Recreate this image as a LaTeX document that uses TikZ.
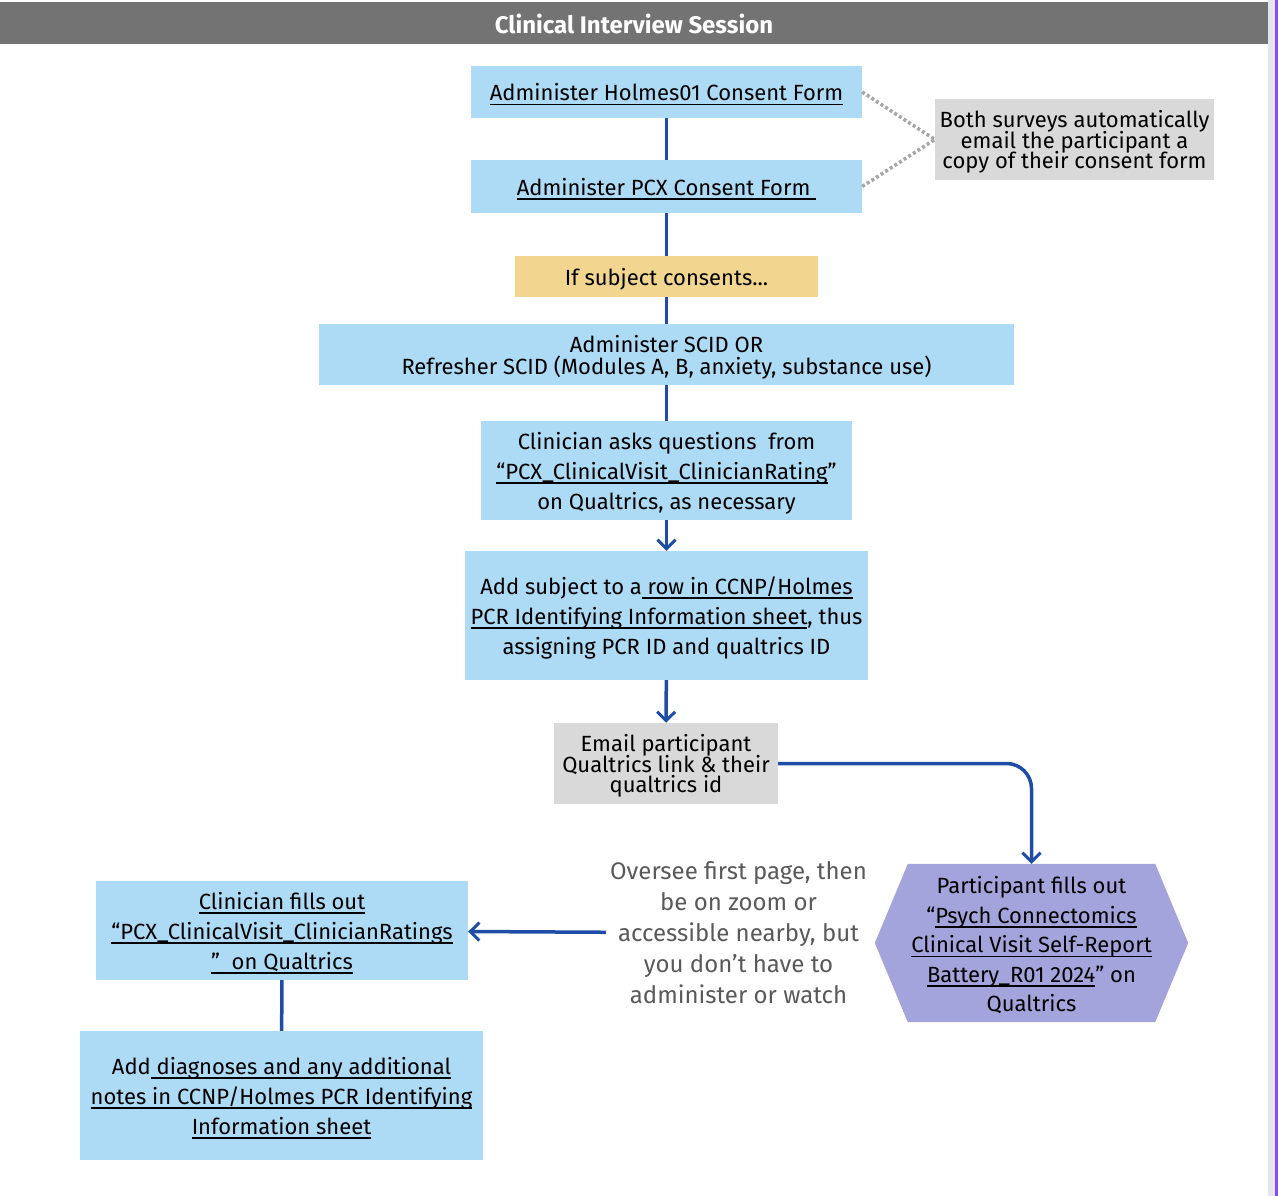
\documentclass[tikz,border=0pt]{standalone}
\usepackage{fontspec}
\setmainfont{Fira Sans}
\usetikzlibrary{arrows.meta,backgrounds}
\definecolor{boxblue}{HTML}{ADDAF5}
\definecolor{boxgrey}{HTML}{D9D9D9}
\definecolor{boxyellow}{HTML}{F2D690}
\definecolor{boxlavender}{HTML}{A4A4DC}
\definecolor{headgrey}{HTML}{737373}
\definecolor{lineblue}{HTML}{1F4CA6}
\definecolor{dotgrey}{HTML}{A6A6A6}
\definecolor{edgegrey}{HTML}{E4E6EC}
\definecolor{edgepurple}{HTML}{8A4BF0}
\definecolor{notegrey}{HTML}{595959}
\newcommand{\uln}[1]{\setbox0\hbox{#1}\rlap{\rule[-4.5pt]{\wd0}{1.6pt}}\box0}
\newcommand{\topline}{\rule{0pt}{22pt}}
\begin{document}
\begin{tikzpicture}
[x=1pt,y=-1pt,
  boxdecorate/.style={inner sep=0pt,align=center,font=\fontsize{22}{30}\selectfont},%
  textdown/.style={execute at begin node={\lineskiplimit=-20pt\relax}},%
  bluebox/.style={boxdecorate,textdown,fill=boxblue},%
  greybox/.style={boxdecorate,textdown,fill=boxgrey,font=\fontsize{22}{20.8}\selectfont},%
  linedecorate/.style={-,line width=3.5pt,draw=lineblue},%
  arrowdecorate/.style={-{Straight Barb[length=9pt,width=18pt,line width=3pt]},line width=3.5pt,draw=lineblue},%
  dotdecorate/.style={line width=3.5pt,draw=dotgrey,dash pattern=on 3pt off 2.5pt}]
\useasboundingbox (0,0) rectangle (1278,1196);
%% header and page edge
\fill[headgrey] (0,2) rectangle (1268,44);
\node (title) at (634,24) [text=white,font=\bfseries\fontsize{24}{24}\selectfont] {Clinical Interview Session};
\fill[edgegrey] (1268,0) rectangle (1275,1196);
\fill[edgepurple] (1275,0) rectangle (1278,1196);
%% nodes or boxes
\node (holmes) at (666.5,92) [bluebox,minimum width=391,minimum height=52]
  {\topline\uln{Administer Holmes01 Consent Form}};
\node (pcx) at (666.5,186.5) [bluebox,minimum width=391,minimum height=53]
  {\topline\uln{Administer PCX Consent Form }};
\node (note) at (1074.5,139.5) [greybox,minimum width=279,minimum height=81]
  {\topline Both surveys automatically\\email the participant a\\copy of their consent form};
\node (consents) at (666.5,276.5) [boxdecorate,fill=boxyellow,minimum width=303,minimum height=41]
  {\topline If subject consents...};
\node (scid) at (666.5,354.5) [bluebox,minimum width=695,minimum height=61,font=\fontsize{22}{22}\selectfont]
  {\topline Administer SCID OR\\Refresher SCID (Modules A, B, anxiety, substance use)};
\node (ask) at (666.5,470.5) [bluebox,minimum width=371,minimum height=99]
  {\topline Clinician asks questions\ \ from\\\uln{“PCX\_ClinicalVisit\_ClinicianRating}”\\on Qualtrics, as necessary};
\node (addsubj) at (666.5,615.5) [bluebox,minimum width=403,minimum height=129]
  {\topline Add subject to a\uln{ row in CCNP/Holmes}\\\uln{PCR Identifying Information sheet}, thus\\assigning PCR ID and qualtrics ID};
\node (email) at (666,763.5) [greybox,minimum width=224,minimum height=81]
  {\topline Email participant\\Qualtrics link \& their\\qualtrics id};
\node (participant) at (1031.5,943) [boxdecorate,minimum width=313,minimum height=158,font=\fontsize{22}{29.5}\selectfont]
  {\topline Participant fills out\\“\uln{Psych Connectomics}\\\uln{Clinical Visit Self-Report}\\\uln{Battery\_R01 2024}” on\\Qualtrics};
\begin{scope}[on background layer]
\fill[boxlavender] ([xshift=33pt]participant.north west) -- ([xshift=-33pt]participant.north east)
  -- (participant.east) -- ([xshift=-33pt]participant.south east)
  -- ([xshift=33pt]participant.south west) -- (participant.west) -- cycle;
\end{scope}
\node (oversee) at (738.5,933) [boxdecorate,inner sep=4pt,text=notegrey,font=\fontsize{24}{31}\selectfont]
  {Oversee first page, then\\be on zoom or\\accessible nearby, but\\you don’t have to\\administer or watch};
\node (fills) at (282,930.5) [bluebox,minimum width=372,minimum height=99]
  {\topline\uln{Clinician fills out}\\\uln{“PCX\_ClinicalVisit\_ClinicianRatings}\\\uln{”\ \ on Qualtrics}};
\node (diag) at (281.5,1095.5) [bluebox,minimum width=403,minimum height=129]
  {\topline Add\uln{ diagnoses and any additional}\\\uln{notes in CCNP/Holmes PCR Identifying}\\\uln{Information sheet}};
%% edges or lines
\path
\foreach \startnode/\endnode in {holmes/pcx, pcx/consents, consents/scid, scid/ask, fills/diag} {
  (\startnode) edge[linedecorate] (\endnode)
};
\path
\foreach \startnode/\endnode in {ask/addsubj, addsubj/email, oversee/fills} {
  (\startnode) edge[arrowdecorate] (\endnode)
};
\draw[arrowdecorate,rounded corners=25pt] (email.east) -| (participant.north);
\draw[dotdecorate] (holmes.east) -- (note.west);
\draw[dotdecorate] (pcx.east) -- (note.west);
\end{tikzpicture}
\end{document}
